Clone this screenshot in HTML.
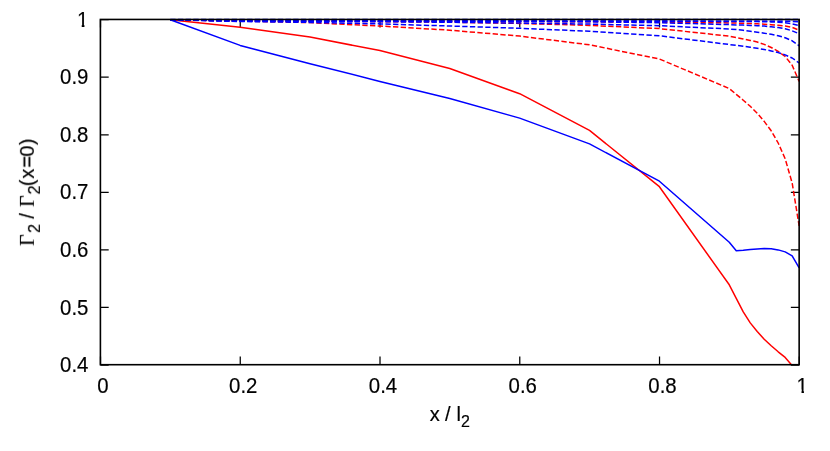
<!DOCTYPE html>
<html><head><meta charset="utf-8"><title>chart</title>
<style>html,body{margin:0;padding:0;background:#fff}svg{display:block}text{font-family:"Liberation Sans",sans-serif;fill:#000;stroke:#000;stroke-width:0.18px}</style></head>
<body>
<svg width="830" height="451" viewBox="0 0 830 451">
<rect width="830" height="451" fill="#fff"/>
<g style="filter:grayscale(1)">
<text transform="translate(88.40,26.74) scale(1,1.080)" font-size="20.4" text-anchor="end">1</text>
<text transform="translate(88.40,84.30) scale(1,1.080)" font-size="20.4" text-anchor="end">0.9</text>
<text transform="translate(88.40,141.86) scale(1,1.080)" font-size="20.4" text-anchor="end">0.8</text>
<text transform="translate(88.40,199.42) scale(1,1.080)" font-size="20.4" text-anchor="end">0.7</text>
<text transform="translate(88.40,256.98) scale(1,1.080)" font-size="20.4" text-anchor="end">0.6</text>
<text transform="translate(88.40,314.54) scale(1,1.080)" font-size="20.4" text-anchor="end">0.5</text>
<text transform="translate(88.40,372.10) scale(1,1.080)" font-size="20.4" text-anchor="end">0.4</text>
<text transform="translate(102.89,392.50) scale(1,1.080)" font-size="20.4" text-anchor="middle">0</text>
<text transform="translate(243.25,392.50) scale(1,1.080)" font-size="20.4" text-anchor="middle">0.2</text>
<text transform="translate(383.01,392.50) scale(1,1.080)" font-size="20.4" text-anchor="middle">0.4</text>
<text transform="translate(522.77,392.50) scale(1,1.080)" font-size="20.4" text-anchor="middle">0.6</text>
<text transform="translate(662.53,392.50) scale(1,1.080)" font-size="20.4" text-anchor="middle">0.8</text>
<text transform="translate(802.29,392.50) scale(1,1.080)" font-size="20.4" text-anchor="middle">1</text>
<path d="M796.5,389.5h5.0v4h-5.0z M803.95,389.5h4.5v4h-4.5z M76.5,24.0h5.2v4h-5.2z M84.45,24.0h4.6v4h-4.6z" fill="#fff"/>
</g>
<path d="M100.40,19.64 h8.3 M799.15,19.64 h-8.3 M100.40,77.20 h8.3 M799.15,77.20 h-8.3 M100.40,134.76 h8.3 M799.15,134.76 h-8.3 M100.40,192.32 h8.3 M799.15,192.32 h-8.3 M100.40,249.88 h8.3 M799.15,249.88 h-8.3 M100.40,307.44 h8.3 M799.15,307.44 h-8.3 M100.40,365.00 h8.3 M799.15,365.00 h-8.3 M100.49,364.70 v-8.1 M100.49,19.45 v8.1 M240.25,364.70 v-8.1 M240.25,19.45 v8.1 M380.01,364.70 v-8.1 M380.01,19.45 v8.1 M519.77,364.70 v-8.1 M519.77,19.45 v8.1 M659.53,364.70 v-8.1 M659.53,19.45 v8.1 M799.29,364.70 v-8.1 M799.29,19.45 v8.1" stroke="#000" stroke-width="1.25" fill="none"/>
<clipPath id="c"><rect x="100.40" y="17.45" width="699.55" height="347.25"/></clipPath>
<g fill="none" stroke-width="1.5" stroke-linejoin="round" clip-path="url(#c)">
<path d="M170.28,19.80 L240.15,27.35 L310.02,37.00 L379.90,50.60 L449.77,68.50 L519.65,93.70 L589.52,130.40 L659.40,186.70 L729.27,284.80 L736.26,298.40 L743.25,311.90 L750.24,322.90 L757.22,331.50 L764.21,339.20 L771.20,345.80 L778.19,351.80 L785.17,357.40 L792.16,365.60" stroke="#ff0000"/>
<path d="M170.28,19.80 L240.15,45.40 L310.02,63.70 L379.90,81.40 L449.77,98.50 L519.65,118.10 L589.52,143.90 L659.40,181.20 L729.27,242.30 L736.26,250.70 L743.25,250.30 L750.24,249.50 L757.22,248.90 L764.21,248.50 L771.20,248.70 L778.19,249.90 L785.17,251.90 L792.16,255.90 L799.15,267.80" stroke="#0000ff"/>
<path d="M170.28,19.80 L240.15,21.00 L310.02,22.60 L379.90,26.00 L449.77,30.20 L519.65,36.10 L589.52,44.80 L659.40,59.00 L729.27,88.50 L736.26,94.30 L743.25,100.20 L750.24,106.30 L757.22,113.20 L764.21,121.40 L771.20,130.80 L778.19,143.00 L785.17,158.80 L792.16,183.00 L799.15,226.00" stroke="#ff0000" stroke-dasharray="5.31 2.375"/>
<path d="M170.28,19.80 L240.15,20.90 L310.02,21.20 L379.90,21.60 L449.77,22.20 L519.65,23.40 L589.52,25.40 L659.40,28.60 L729.27,36.20 L736.26,37.60 L743.25,38.90 L750.24,40.40 L757.22,42.00 L764.21,44.40 L771.20,47.50 L778.19,51.30 L785.17,56.50 L792.16,65.20 L799.15,81.50" stroke="#ff0000" stroke-dasharray="5.31 2.375"/>
<path d="M170.28,19.80 L240.15,20.80 L310.02,21.00 L379.90,21.10 L449.77,21.30 L519.65,21.50 L589.52,21.80 L659.40,22.20 L729.27,22.90 L736.26,23.10 L743.25,23.30 L750.24,23.50 L757.22,23.80 L764.21,24.20 L771.20,24.70 L778.19,25.30 L785.17,26.00 L792.16,27.30 L799.15,30.20" stroke="#ff0000" stroke-dasharray="5.31 2.375"/>
<path d="M170.28,19.80 L240.15,21.50 L310.02,22.40 L379.90,23.90 L449.77,26.00 L519.65,28.30 L589.52,31.30 L659.40,35.80 L729.27,44.50 L736.26,45.30 L743.25,46.20 L750.24,47.20 L757.22,48.30 L764.21,49.50 L771.20,50.90 L778.19,52.60 L785.17,54.90 L792.16,58.00 L799.15,63.00" stroke="#0000ff" stroke-dasharray="5.31 2.375"/>
<path d="M170.28,19.80 L240.15,20.90 L310.02,21.20 L379.90,21.70 L449.77,22.30 L519.65,23.10 L589.52,24.10 L659.40,25.70 L729.27,29.00 L736.26,29.60 L743.25,30.30 L750.24,31.20 L757.22,32.20 L764.21,33.20 L771.20,34.30 L778.19,35.70 L785.17,37.80 L792.16,40.80 L799.15,45.80" stroke="#0000ff" stroke-dasharray="5.31 2.375"/>
<path d="M170.28,19.80 L240.15,20.90 L310.02,21.00 L379.90,21.10 L449.77,21.20 L519.65,21.40 L589.52,21.80 L659.40,22.70 L729.27,24.60 L736.26,24.90 L743.25,25.10 L750.24,25.40 L757.22,25.70 L764.21,26.10 L771.20,26.80 L778.19,27.50 L785.17,28.70 L792.16,30.80 L799.15,33.80" stroke="#0000ff" stroke-dasharray="5.31 2.375"/>
<path d="M170.28,19.80 L240.15,20.80 L310.02,21.00 L379.90,21.00 L449.77,21.10 L519.65,21.10 L589.52,21.20 L659.40,21.30 L729.27,21.40 L736.26,21.40 L743.25,21.45 L750.24,21.50 L757.22,21.60 L764.21,21.70 L771.20,21.90 L778.19,22.20 L785.17,22.80 L792.16,23.80 L799.15,25.60" stroke="#0000ff" stroke-dasharray="5.31 2.375"/>
<path d="M170.28,19.80 L240.15,20.80 L310.02,20.90 L379.90,21.00 L449.77,21.00 L519.65,21.00 L589.52,21.10 L659.40,21.10 L729.27,21.20 L736.26,21.20 L743.25,21.20 L750.24,21.20 L757.22,21.20 L764.21,21.25 L771.20,21.30 L778.19,21.30 L785.17,21.30 L792.16,21.40 L799.15,21.70" stroke="#0000ff" stroke-dasharray="5.31 2.375"/>
<path d="M170.28,19.50 L799.15,19.50" stroke="#0000ff" stroke-dasharray="5.31 2.375"/>
</g>
<rect x="100.40" y="19.45" width="698.75" height="345.25" fill="none" stroke="#000" stroke-width="1.6"/>
<g style="filter:grayscale(1)">
<text transform="translate(429.70,420.90) scale(1,1.000)" font-size="20.0" text-anchor="start">x</text>
<text transform="translate(444.90,420.90) scale(1,1.000)" font-size="20.0" text-anchor="start">/</text>
<text transform="translate(456.60,420.90) scale(1,1.000)" font-size="20.0" text-anchor="start">l</text>
<text transform="translate(460.90,426.90) scale(1,1.000)" font-size="16.0" text-anchor="start">2</text>
<g transform="translate(33.9,246.2) rotate(-90)">
<text transform="translate(0.30,0.00) scale(1,1.000)" font-size="20.0" text-anchor="start" style="font-family:'Liberation Serif',serif">Γ</text>
<text transform="translate(13.30,5.80) scale(1,1.000)" font-size="16.0" text-anchor="start">2</text>
<text transform="translate(27.60,0.00) scale(1,1.000)" font-size="20.0" text-anchor="start">/</text>
<text transform="translate(39.20,0.00) scale(1,1.000)" font-size="20.0" text-anchor="start" style="font-family:'Liberation Serif',serif">Γ</text>
<text transform="translate(51.80,5.80) scale(1,1.000)" font-size="16.0" text-anchor="start">2</text>
<text transform="translate(60.00,0.00) scale(1,1.000)" font-size="20.0" text-anchor="start">(</text>
<text transform="translate(67.60,0.00) scale(1,1.000)" font-size="20.0" text-anchor="start">x</text>
<text transform="translate(78.40,0.00) scale(1,1.000)" font-size="20.0" text-anchor="start">=</text>
<text transform="translate(89.50,0.00) scale(1,1.000)" font-size="20.0" text-anchor="start">0</text>
<text transform="translate(100.90,0.00) scale(1,1.000)" font-size="20.0" text-anchor="start">)</text>
</g>
</g>
</svg></body></html>
